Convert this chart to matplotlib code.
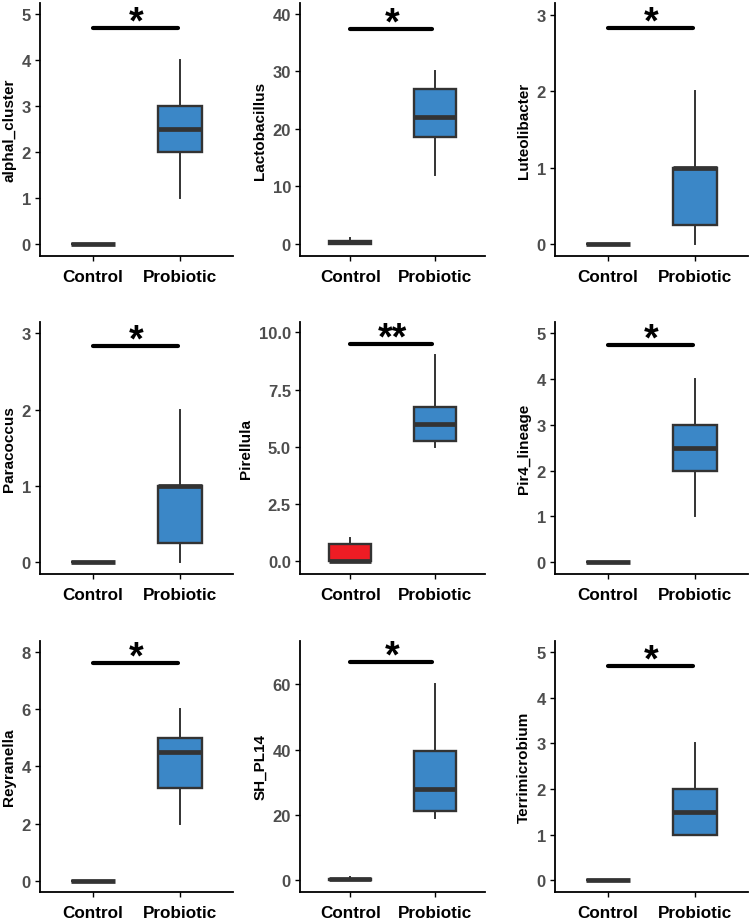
"""3x3 grid of Control vs Probiotic boxplots with significance bars."""

from matplotlib import pyplot as plt

plt.rcParams["font.family"] = ["Liberation Sans", "DejaVu Sans"]

GROUPS = ["Control", "Probiotic"]

genera = [
    "alphal_cluster", "Lactobacillus", "Luteolibacter",
    "Paracoccus", "Pirellula", "Pir4_lineage",
    "Reyranella", "SH_PL14", "Terrimicrobium",
]

# five-number summaries: whislo, q1, med, q3, whishi
control_stats = [
    [0, 0, 0, 0, 0],
    [0, 0, 0.25, 0.5, 1],
    [0, 0, 0, 0, 0],
    [0, 0, 0, 0, 0],
    [0, 0, 0, 0.75, 1],
    [0, 0, 0, 0, 0],
    [0, 0, 0, 0, 0],
    [0, 0, 0.2, 0.4, 0.8],
    [0, 0, 0, 0, 0],
]
probiotic_stats = [
    [1, 2, 2.5, 3, 4],
    [12, 18.5, 22, 27, 30],
    [0, 0.25, 1, 1, 2],
    [0, 0.25, 1, 1, 2],
    [5, 5.25, 6, 6.75, 9],
    [1, 2, 2.5, 3, 4],
    [2, 3.25, 4.5, 5, 6],
    [19, 21, 28, 39.5, 60],
    [1, 1, 1.5, 2, 3],
]

signif_labels = ["*", "*", "*", "*", "**", "*", "*", "*", "*"]
signif_heights = [4.7, 37.3, 2.83, 2.83, 9.5, 4.75, 7.6, 67, 4.7]

y_limits = [
    (-0.26, 5.25), (-2.15, 41.9), (-0.157, 3.16),
    (-0.153, 3.15), (-0.55, 10.45), (-0.26, 5.25),
    (-0.39, 8.37), (-3.7, 73.3), (-0.26, 5.25),
]
y_ticks = [
    [0, 1, 2, 3, 4, 5], [0, 10, 20, 30, 40], [0, 1, 2, 3],
    [0, 1, 2, 3], [0.0, 2.5, 5.0, 7.5, 10.0], [0, 1, 2, 3, 4, 5],
    [0, 2, 4, 6, 8], [0, 20, 40, 60], [0, 1, 2, 3, 4, 5],
]
y_tick_labels = [
    ["0", "1", "2", "3", "4", "5"], ["0", "10", "20", "30", "40"], ["0", "1", "2", "3"],
    ["0", "1", "2", "3"], ["0.0", "2.5", "5.0", "7.5", "10.0"], ["0", "1", "2", "3", "4", "5"],
    ["0", "2", "4", "6", "8"], ["0", "20", "40", "60"], ["0", "1", "2", "3", "4", "5"],
]

BLUE = "#3b87c7"
RED = "#ee1c24"
EDGE = "#333333"

# axes boxes in pixels: (left, right) per column, (top, bottom) per row
col_px = [(40, 233), (300, 485), (555, 748)]
row_px = [(4, 257), (323, 575), (642, 893)]
W, H = 750, 920


def _box(stats, label):
    lo, q1, med, q3, hi = stats
    return {"whislo": lo, "q1": q1, "med": med, "q3": q3, "whishi": hi,
            "fliers": [], "label": label}


figure = plt.figure(figsize=(W / 100, H / 100), dpi=100)

for i, name in enumerate(genera):
    r, c = divmod(i, 3)
    left, right = col_px[c]
    top, bottom = row_px[r]
    axis = figure.add_axes([left / W, 1 - bottom / H, (right - left) / W, (bottom - top) / H])

    ctrl_fill = RED if name == "Pirellula" else BLUE
    boxes = [_box(control_stats[i], GROUPS[0]), _box(probiotic_stats[i], GROUPS[1])]
    parts = axis.bxp(
        boxes,
        positions=[1, 2],
        widths=0.5,
        patch_artist=True,
        showfliers=False,
        showcaps=False,
        boxprops={"edgecolor": EDGE, "linewidth": 1.7},
        whiskerprops={"color": EDGE, "linewidth": 1.4},
        medianprops={"color": EDGE, "linewidth": 3.4, "solid_capstyle": "butt"},
    )
    for patch, fill in zip(parts["boxes"], [ctrl_fill, BLUE]):
        patch.set_facecolor(fill)

    # significance bar
    h = signif_heights[i]
    axis.plot([1, 1.97], [h, h], color="black", linewidth=3.0, solid_capstyle="round")
    axis.annotate(signif_labels[i], (1.5, h), xytext=(0, -9), textcoords="offset points",
                  ha="center", va="bottom", fontsize=27, fontweight="bold")

    axis.set_xlim(0.4, 2.6)
    axis.set_ylim(*y_limits[i])
    axis.set_yticks(y_ticks[i])
    axis.set_yticklabels(y_tick_labels[i])
    axis.set_xticks([1, 2])
    axis.set_xticklabels(GROUPS)
    axis.set_ylabel(name, fontsize=11, fontweight="bold", labelpad=4)

    for side in ("top", "right"):
        axis.spines[side].set_visible(False)
    for side in ("left", "bottom"):
        axis.spines[side].set_linewidth(1.3)
    axis.tick_params(axis="y", labelsize=12, labelcolor="#4d4d4d", length=3.5, width=1.0, pad=3)
    axis.tick_params(axis="x", labelsize=12.3, labelcolor="black", length=3.5, width=1.0, pad=6)
    for lbl in axis.get_xticklabels() + axis.get_yticklabels():
        lbl.set_fontweight("bold")

figure.savefig("out.png", dpi=100)
